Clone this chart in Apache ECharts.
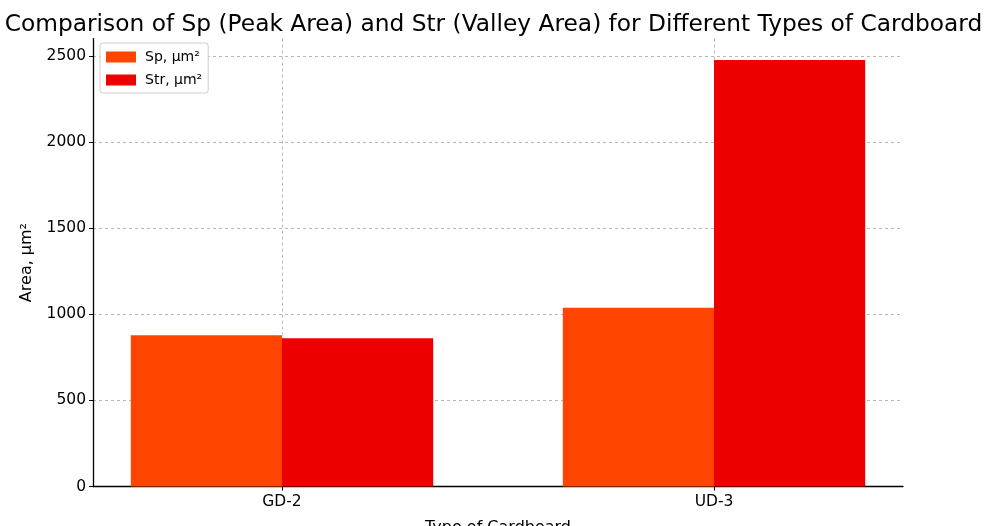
<!DOCTYPE html>
<html>
<head>
<meta charset="utf-8">
<script src="https://cdn.jsdelivr.net/npm/echarts@6/dist/echarts.min.js"></script>
<style>
  html, body { margin: 0; padding: 0; background: #fff; }
  #chart { width: 987px; height: 526px; }
</style>
</head>
<body>
<div id="chart"></div>
<script>
// values
var categories = ['GD-2', 'UD-3'];
var spValues = [878, 1038];
var strValues = [861, 2477];
var yTicks = [0, 500, 1000, 1500, 2000, 2500];

var font = 'DejaVu Sans';
var chart = echarts.init(document.getElementById('chart'));

var catIdx = categories.map(function (c, i) { return i; });

var option = {
    animation: false,
    backgroundColor: '#fff',
    textStyle: { fontFamily: font },
    title: {
        text: 'Comparison of Sp (Peak Area) and Str (Valley Area) for Different Types of Cardboard',
        left: 'center',
        top: 8,
        textStyle: { fontFamily: font, fontSize: 23.3, fontWeight: 'normal', color: '#000' }
    },
    legend: {
        orient: 'vertical',
        left: 100,
        top: 43,
        padding: [7, 6, 6, 6],
        itemWidth: 30,
        itemHeight: 11,
        itemGap: 9,
        borderColor: '#cccccc',
        borderWidth: 1,
        borderRadius: 3,
        backgroundColor: '#fff',
        icon: 'rect',
        textStyle: { fontFamily: font, fontSize: 14, color: '#000', padding: [0, 0, 0, 4] },
        data: ['Sp, µm²', 'Str, µm²']
    },
    grid: { left: 93, right: 84, top: 38.6, bottom: 39.5, outerBoundsMode: 'none' },
    xAxis: {
        type: 'value',
        min: -0.4375,
        max: 1.4375,
        name: 'Type of Cardboard',
        nameLocation: 'middle',
        nameGap: 33,
        nameTextStyle: { fontFamily: font, fontSize: 16, color: '#000' },
        axisLine: { show: true, onZero: false, lineStyle: { color: '#000', width: 1.3 } },
        axisTick: { show: true, length: 4, customValues: catIdx, lineStyle: { color: '#000' } },
        axisLabel: {
            customValues: catIdx,
            margin: 7,
            fontFamily: font, fontSize: 15.5, color: '#000',
            formatter: function (v) { return categories[Math.round(v)]; }
        },
        splitLine: { show: true, lineStyle: { color: '#b8b8b8', type: [3, 3], width: 1 } }
    },
    yAxis: {
        type: 'value',
        min: 0,
        max: 2601,
        name: 'Area, µm²',
        nameLocation: 'middle',
        nameGap: 58,
        nameRotate: 90,
        nameTextStyle: { fontFamily: font, fontSize: 16, color: '#000' },
        axisLine: { show: true, onZero: false, lineStyle: { color: '#000', width: 1.3 } },
        axisTick: { show: true, length: 4, customValues: yTicks, lineStyle: { color: '#000' } },
        axisLabel: {
            customValues: yTicks, margin: 7, fontFamily: font, fontSize: 15.5, color: '#000',
            formatter: function (v) { return String(v); }
        },
        splitLine: { show: true, lineStyle: { color: '#b8b8b8', type: [3, 3], width: 1 } }
    },
    series: [
        {
            name: 'Sp, µm²',
            type: 'bar',
            barWidth: '35%',
            barGap: '0%',
            itemStyle: { color: '#FF4500' },
            data: spValues.map(function (v, i) { return [i, v]; })
        },
        {
            name: 'Str, µm²',
            type: 'bar',
            barWidth: '35%',
            barGap: '0%',
            itemStyle: { color: '#EE0000' },
            data: strValues.map(function (v, i) { return [i, v]; })
        }
    ]
};

chart.setOption(option);
</script>
</body>
</html>
